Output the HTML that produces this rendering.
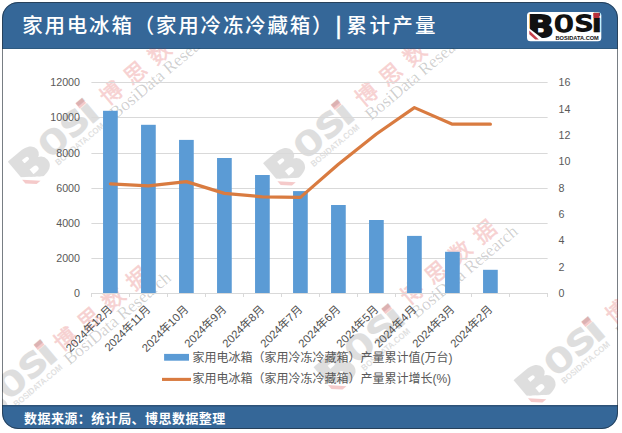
<!DOCTYPE html>
<html><head><meta charset="utf-8">
<style>
html,body{margin:0;padding:0;background:#fff;width:622px;height:433px;overflow:hidden}
svg{display:block}
.ax{font-family:"Liberation Sans","Noto Sans CJK SC",sans-serif;font-size:10.7px;fill:#595959}
.xl{font-family:"Liberation Sans","Noto Sans CJK SC",sans-serif;font-size:11.3px;fill:#505050}
.lg{font-family:"Liberation Sans","Noto Sans CJK SC",sans-serif;font-size:12px;fill:#595959}
.tt{font-family:"Liberation Sans","Noto Sans CJK SC",sans-serif;font-size:20.5px;font-weight:500;fill:#fff}
.ft{font-family:"Liberation Sans","Noto Sans CJK SC",sans-serif;font-size:13px;font-weight:bold;fill:#fff}
</style></head>
<body>
<svg width="622" height="433" viewBox="0 0 622 433">
<defs>
<clipPath id="bcut" clipPathUnits="userSpaceOnUse"><polygon points="500,0 620,0 620,50 544.5,50 544.5,40 529,28.2 500,28.2"/></clipPath>
<clipPath id="wmc"><rect x="2" y="48.5" width="616" height="356.5"/></clipPath>
<clipPath id="fr"><rect x="2" y="2" width="616" height="427" rx="16" ry="16"/></clipPath>
</defs>
<g clip-path="url(#fr)">
<rect x="0" y="0" width="622" height="433" fill="#fff"/>
<rect x="0" y="0" width="622" height="49" fill="#356798"/>
<rect x="0" y="48" width="622" height="1" fill="#2e5a80"/>
<rect x="0" y="405" width="622" height="30" fill="#356798"/>
<rect x="0" y="405" width="622" height="1.5" fill="#2e5378"/>
</g>
<rect x="2.5" y="2.5" width="615" height="426" rx="15.5" ry="15.5" fill="none" stroke="rgba(30,40,50,0.6)" stroke-width="1"/>

<!-- title -->
<text class="tt" x="22.2" y="33" letter-spacing="1.8">家用电冰箱（家用冷冻冷藏箱）</text>
<text class="tt" x="335.6" y="34.3" style="font-size:23px" stroke="#fff" stroke-width="0.5">|</text>
<text class="tt" x="346.6" y="33" letter-spacing="2.3">累计产量</text>

<!-- logo -->
<rect x="527" y="11.9" width="74.3" height="29.3" rx="3.5" fill="#fff"/>
<g font-weight="bold" fill="#111" stroke="#111" stroke-linejoin="miter">
<text transform="translate(528.69,37.4) scale(1.29,1)" font-family="DejaVu Sans Mono, monospace" font-size="30.4" stroke-width="2.2">B</text>
<text transform="translate(554.12,32.0) scale(1.48,1)" font-family="DejaVu Sans Mono, monospace" font-weight="normal" font-size="22.18" stroke-width="1.4">O</text>
<text transform="translate(575.27,31.25) scale(1.371,1)" font-family="DejaVu Sans Mono, monospace" font-weight="normal" font-size="21.19" stroke-width="2.0">S</text>
<text transform="translate(591.24,32.3) scale(1.53,1)" font-family="Liberation Sans, sans-serif" font-size="26.2" stroke-width="0.4">i</text>
<text x="555.5" y="39.6" font-family="Liberation Sans, sans-serif" font-size="6.2" stroke="none" textLength="43.3" lengthAdjust="spacingAndGlyphs">BOSIDATA.COM</text>
</g>
<rect x="593.4" y="13.0" width="6.1" height="5.0" fill="#b8303c"/>
<polygon points="529,28.2 544.5,40 529,40" fill="#fff"/>
<polygon points="529.3,30.6 538.8,39.6 535.2,39.6 529.3,34.2" fill="#c4404c"/>
<!--WM-->
<g clip-path="url(#wmc)">
<g transform="translate(115.8,119.5) rotate(-40)">
<text x="0" y="0" font-family="Liberation Serif, serif" font-size="17.5" fill="#000" fill-opacity="0.19">BosiData Research</text>
<text x="2.5" y="-15.2" font-family="Liberation Sans, Noto Sans CJK SC, sans-serif" font-size="22" letter-spacing="9.5" fill="#d83030" stroke="#d83030" stroke-width="0.6" opacity="0.22">博思数据</text>
<g transform="translate(-851.40,-56.96) scale(1.4)">
<g opacity="0.125" font-weight="bold" fill="#000" stroke="#000" stroke-linejoin="miter">
<g clip-path="url(#bcut)"><text transform="translate(528.69,37.4) scale(1.29,1)" font-family="DejaVu Sans Mono, monospace" font-size="30.4" stroke-width="2.2">B</text></g>
<text transform="translate(554.12,32.0) scale(1.48,1)" font-family="DejaVu Sans Mono, monospace" font-weight="normal" font-size="22.18" stroke-width="1.4">O</text>
<text transform="translate(575.27,31.25) scale(1.371,1)" font-family="DejaVu Sans Mono, monospace" font-weight="normal" font-size="21.19" stroke-width="2.0">S</text>
<text transform="translate(591.24,32.3) scale(1.53,1)" font-family="Liberation Sans, sans-serif" font-size="26.2" stroke-width="0.4">i</text>
<text x="555.5" y="39.6" font-family="Liberation Sans, sans-serif" font-size="6.2" stroke="none" textLength="43.3" lengthAdjust="spacingAndGlyphs">BOSIDATA.COM</text>
</g>
<g fill="#d83030" opacity="0.25">
<rect x="593.4" y="13.4" width="6.1" height="4.6"/>
<polygon points="529.3,30.6 538.8,39.6 535.2,39.6 529.3,34.2"/>
</g>
</g>
</g>
<g transform="translate(371.1,121.0) rotate(-40)">
<text x="0" y="0" font-family="Liberation Serif, serif" font-size="17.5" fill="#000" fill-opacity="0.19">BosiData Research</text>
<text x="2.5" y="-15.2" font-family="Liberation Sans, Noto Sans CJK SC, sans-serif" font-size="22" letter-spacing="9.5" fill="#d83030" stroke="#d83030" stroke-width="0.6" opacity="0.22">博思数据</text>
<g transform="translate(-851.40,-56.96) scale(1.4)">
<g opacity="0.125" font-weight="bold" fill="#000" stroke="#000" stroke-linejoin="miter">
<g clip-path="url(#bcut)"><text transform="translate(528.69,37.4) scale(1.29,1)" font-family="DejaVu Sans Mono, monospace" font-size="30.4" stroke-width="2.2">B</text></g>
<text transform="translate(554.12,32.0) scale(1.48,1)" font-family="DejaVu Sans Mono, monospace" font-weight="normal" font-size="22.18" stroke-width="1.4">O</text>
<text transform="translate(575.27,31.25) scale(1.371,1)" font-family="DejaVu Sans Mono, monospace" font-weight="normal" font-size="21.19" stroke-width="2.0">S</text>
<text transform="translate(591.24,32.3) scale(1.53,1)" font-family="Liberation Sans, sans-serif" font-size="26.2" stroke-width="0.4">i</text>
<text x="555.5" y="39.6" font-family="Liberation Sans, sans-serif" font-size="6.2" stroke="none" textLength="43.3" lengthAdjust="spacingAndGlyphs">BOSIDATA.COM</text>
</g>
<g fill="#d83030" opacity="0.25">
<rect x="593.4" y="13.4" width="6.1" height="4.6"/>
<polygon points="529.3,30.6 538.8,39.6 535.2,39.6 529.3,34.2"/>
</g>
</g>
</g>
<g transform="translate(69.8,365.4) rotate(-40)">
<text x="0" y="0" font-family="Liberation Serif, serif" font-size="17.5" fill="#000" fill-opacity="0.19">BosiData Research</text>
<text x="2.5" y="-15.2" font-family="Liberation Sans, Noto Sans CJK SC, sans-serif" font-size="22" letter-spacing="9.5" fill="#d83030" stroke="#d83030" stroke-width="0.6" opacity="0.22">博思数据</text>
<g transform="translate(-845.40,-57.56) scale(1.4)">
<g opacity="0.125" font-weight="bold" fill="#000" stroke="#000" stroke-linejoin="miter">
<g clip-path="url(#bcut)"><text transform="translate(528.69,37.4) scale(1.29,1)" font-family="DejaVu Sans Mono, monospace" font-size="30.4" stroke-width="2.2">B</text></g>
<text transform="translate(554.12,32.0) scale(1.48,1)" font-family="DejaVu Sans Mono, monospace" font-weight="normal" font-size="22.18" stroke-width="1.4">O</text>
<text transform="translate(575.27,31.25) scale(1.371,1)" font-family="DejaVu Sans Mono, monospace" font-weight="normal" font-size="21.19" stroke-width="2.0">S</text>
<text transform="translate(591.24,32.3) scale(1.53,1)" font-family="Liberation Sans, sans-serif" font-size="26.2" stroke-width="0.4">i</text>
<text x="555.5" y="39.6" font-family="Liberation Sans, sans-serif" font-size="6.2" stroke="none" textLength="43.3" lengthAdjust="spacingAndGlyphs">BOSIDATA.COM</text>
</g>
<g fill="#d83030" opacity="0.25">
<rect x="593.4" y="13.4" width="6.1" height="4.6"/>
<polygon points="529.3,30.6 538.8,39.6 535.2,39.6 529.3,34.2"/>
</g>
</g>
</g>
<g transform="translate(416.7,319.0) rotate(-40)">
<text x="0" y="0" font-family="Liberation Serif, serif" font-size="17.5" fill="#000" fill-opacity="0.19">BosiData Research</text>
<text x="2.5" y="-15.2" font-family="Liberation Sans, Noto Sans CJK SC, sans-serif" font-size="22" letter-spacing="9.5" fill="#d83030" stroke="#d83030" stroke-width="0.6" opacity="0.22">博思数据</text>
<g transform="translate(-851.40,-49.16) scale(1.4)">
<g opacity="0.125" font-weight="bold" fill="#000" stroke="#000" stroke-linejoin="miter">
<g clip-path="url(#bcut)"><text transform="translate(528.69,37.4) scale(1.29,1)" font-family="DejaVu Sans Mono, monospace" font-size="30.4" stroke-width="2.2">B</text></g>
<text transform="translate(554.12,32.0) scale(1.48,1)" font-family="DejaVu Sans Mono, monospace" font-weight="normal" font-size="22.18" stroke-width="1.4">O</text>
<text transform="translate(575.27,31.25) scale(1.371,1)" font-family="DejaVu Sans Mono, monospace" font-weight="normal" font-size="21.19" stroke-width="2.0">S</text>
<text transform="translate(591.24,32.3) scale(1.53,1)" font-family="Liberation Sans, sans-serif" font-size="26.2" stroke-width="0.4">i</text>
<text x="555.5" y="39.6" font-family="Liberation Sans, sans-serif" font-size="6.2" stroke="none" textLength="43.3" lengthAdjust="spacingAndGlyphs">BOSIDATA.COM</text>
</g>
<g fill="#d83030" opacity="0.25">
<rect x="593.4" y="13.4" width="6.1" height="4.6"/>
<polygon points="529.3,30.6 538.8,39.6 535.2,39.6 529.3,34.2"/>
</g>
</g>
</g>
<g transform="translate(621.6,338.0) rotate(-40)">
<text x="0" y="0" font-family="Liberation Serif, serif" font-size="17.5" fill="#000" fill-opacity="0.19">BosiData Research</text>
<text x="2.5" y="-15.2" font-family="Liberation Sans, Noto Sans CJK SC, sans-serif" font-size="22" letter-spacing="9.5" fill="#d83030" stroke="#d83030" stroke-width="0.6" opacity="0.22">博思数据</text>
<g transform="translate(-851.40,-56.96) scale(1.4)">
<g opacity="0.125" font-weight="bold" fill="#000" stroke="#000" stroke-linejoin="miter">
<g clip-path="url(#bcut)"><text transform="translate(528.69,37.4) scale(1.29,1)" font-family="DejaVu Sans Mono, monospace" font-size="30.4" stroke-width="2.2">B</text></g>
<text transform="translate(554.12,32.0) scale(1.48,1)" font-family="DejaVu Sans Mono, monospace" font-weight="normal" font-size="22.18" stroke-width="1.4">O</text>
<text transform="translate(575.27,31.25) scale(1.371,1)" font-family="DejaVu Sans Mono, monospace" font-weight="normal" font-size="21.19" stroke-width="2.0">S</text>
<text transform="translate(591.24,32.3) scale(1.53,1)" font-family="Liberation Sans, sans-serif" font-size="26.2" stroke-width="0.4">i</text>
<text x="555.5" y="39.6" font-family="Liberation Sans, sans-serif" font-size="6.2" stroke="none" textLength="43.3" lengthAdjust="spacingAndGlyphs">BOSIDATA.COM</text>
</g>
<g fill="#d83030" opacity="0.25">
<rect x="593.4" y="13.4" width="6.1" height="4.6"/>
<polygon points="529.3,30.6 538.8,39.6 535.2,39.6 529.3,34.2"/>
</g>
</g>
</g>
</g>
<!--/WM-->
<!-- gridlines -->
<g stroke="#d9d9d9" stroke-width="1">
<line x1="91.4" y1="82.5" x2="547.6" y2="82.5"/>
<line x1="91.4" y1="117.5" x2="547.6" y2="117.5"/>
<line x1="91.4" y1="153.5" x2="547.6" y2="153.5"/>
<line x1="91.4" y1="188.5" x2="547.6" y2="188.5"/>
<line x1="91.4" y1="223.5" x2="547.6" y2="223.5"/>
<line x1="91.4" y1="258.5" x2="547.6" y2="258.5"/>
</g>
<!-- bars -->
<g fill="#5b9bd5">
<rect x="103.05" y="110.8" width="14.7" height="182.6"/>
<rect x="141.05" y="124.8" width="14.7" height="168.6"/>
<rect x="179.05" y="139.9" width="14.7" height="153.5"/>
<rect x="217.05" y="158.0" width="14.7" height="135.4"/>
<rect x="255.05" y="175.0" width="14.7" height="118.4"/>
<rect x="293.05" y="191.1" width="14.7" height="102.3"/>
<rect x="331.05" y="205.0" width="14.7" height="88.4"/>
<rect x="369.05" y="220.0" width="14.7" height="73.4"/>
<rect x="407.05" y="235.9" width="14.7" height="57.5"/>
<rect x="445.05" y="251.8" width="14.7" height="41.6"/>
<rect x="483.05" y="269.8" width="14.7" height="23.6"/>
</g>
<!-- axis -->
<g stroke="#d9d9d9" stroke-width="1">
<line x1="91" y1="293.5" x2="548" y2="293.5"/>
<line x1="91.5" y1="293.5" x2="91.5" y2="297"/>
<line x1="129.5" y1="293.5" x2="129.5" y2="297"/>
<line x1="167.5" y1="293.5" x2="167.5" y2="297"/>
<line x1="205.5" y1="293.5" x2="205.5" y2="297"/>
<line x1="243.5" y1="293.5" x2="243.5" y2="297"/>
<line x1="281.5" y1="293.5" x2="281.5" y2="297"/>
<line x1="319.5" y1="293.5" x2="319.5" y2="297"/>
<line x1="357.5" y1="293.5" x2="357.5" y2="297"/>
<line x1="395.5" y1="293.5" x2="395.5" y2="297"/>
<line x1="433.5" y1="293.5" x2="433.5" y2="297"/>
<line x1="471.5" y1="293.5" x2="471.5" y2="297"/>
<line x1="509.5" y1="293.5" x2="509.5" y2="297"/>
<line x1="547.5" y1="293.5" x2="547.5" y2="297"/>
</g>
<!-- line -->
<polyline fill="none" stroke="#d97b40" stroke-width="3.2" stroke-linejoin="round" stroke-linecap="round"
 points="110.4,183.9 148.4,185.8 186.4,181.6 224.4,193.4 262.4,196.8 300.4,197.4 338.4,164.2 376.4,134.0 414.4,107.6 452.4,124.2 490.4,124.2"/>

<!-- left axis labels -->
<g class="ax" text-anchor="end">
<text x="80" y="86.3">12000</text>
<text x="80" y="121.4">10000</text>
<text x="80" y="156.6">8000</text>
<text x="80" y="191.7">6000</text>
<text x="80" y="226.9">4000</text>
<text x="80" y="262.0">2000</text>
<text x="80" y="297.2">0</text>
</g>
<!-- right axis labels -->
<g class="ax" text-anchor="start">
<text x="558.5" y="86.2">16</text>
<text x="558.5" y="112.6">14</text>
<text x="558.5" y="139.0">12</text>
<text x="558.5" y="165.3">10</text>
<text x="558.5" y="191.7">8</text>
<text x="558.5" y="218.1">6</text>
<text x="558.5" y="244.4">4</text>
<text x="558.5" y="270.8">2</text>
<text x="558.5" y="297.2">0</text>
</g>
<!-- x labels -->
<g class="xl" text-anchor="end">
<text transform="translate(113.2,310) rotate(-45)">2024年12月</text>
<text transform="translate(151.2,310) rotate(-45)">2024年11月</text>
<text transform="translate(189.2,310) rotate(-45)">2024年10月</text>
<text transform="translate(227.2,310) rotate(-45)">2024年9月</text>
<text transform="translate(265.2,310) rotate(-45)">2024年8月</text>
<text transform="translate(303.2,310) rotate(-45)">2024年7月</text>
<text transform="translate(341.2,310) rotate(-45)">2024年6月</text>
<text transform="translate(379.2,310) rotate(-45)">2024年5月</text>
<text transform="translate(417.2,310) rotate(-45)">2024年4月</text>
<text transform="translate(455.2,310) rotate(-45)">2024年3月</text>
<text transform="translate(493.2,310) rotate(-45)">2024年2月</text>
</g>
<!-- legend -->
<rect x="164.1" y="353.9" width="24.9" height="6.8" fill="#5b9bd5"/>
<line x1="162" y1="379.4" x2="191" y2="379.4" stroke="#d97b40" stroke-width="3.1"/>
<text class="lg" x="192.4" y="362">家用电冰箱（家用冷冻冷藏箱）产量累计值(万台)</text>
<text class="lg" x="192.4" y="383">家用电冰箱（家用冷冻冷藏箱）产量累计增长(%)</text>

<!-- footer -->
<text class="ft" x="24" y="423" letter-spacing="0.45">数据来源：统计局、博思数据整理</text>
</svg>
</body></html>
